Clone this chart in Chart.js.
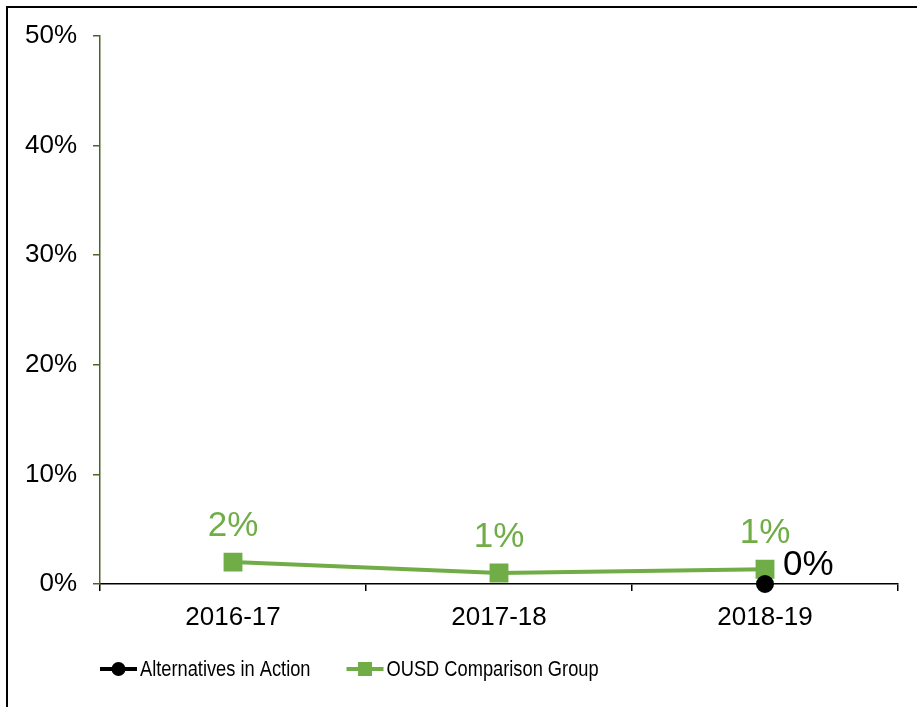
<!DOCTYPE html>
<html>
<head>
<meta charset="utf-8">
<script src="https://cdn.jsdelivr.net/npm/chart.js@4.4.1/dist/chart.umd.min.js"></script>
<style>
body{margin:0;background:#fff;}
#wrap{position:relative;width:917px;height:707px;}
#frame{position:absolute;left:6px;top:6px;right:0;bottom:0;border-top:2px solid #000;border-left:2px solid #000;pointer-events:none;}
canvas{position:absolute;left:0;top:0;}
</style>
</head>
<body>
<div id="wrap">
<canvas id="c1" width="917" height="707"></canvas>
<div id="frame"></div>
</div>
<script>
var years=['2016-17','2017-18','2018-19'];
var aiaName='Alternatives in Action';
var aiaVals=[null,null,0];
var ousdName='OUSD Comparison Group';
var ousdVals=[2.0,1.0,1.35];
var yTicks=[0,10,20,30,40,50];

var green='#70AD47';
var olive='#4F6228';
var fnt='"Liberation Sans", Arial, sans-serif';

// labels over the points, like the excel data labels
var pointLabels={
  id:'pointLabels',
  afterDatasetsDraw:function(chart){
    var ctx=chart.ctx;
    ctx.save();
    ctx.font='35px '+fnt;
    ctx.textBaseline='alphabetic';
    chart.data.datasets.forEach(function(ds,i){
      var meta=chart.getDatasetMeta(i);
      meta.data.forEach(function(pt,j){
        var v=ds.data[j];
        if(v===null||v===undefined){return;}
        var txt=Math.round(v)+'%';
        if(i==0){
          ctx.fillStyle='#000';ctx.textAlign='left';
          ctx.fillText(txt,pt.x+18,pt.y-9);
        }else{
          ctx.fillStyle=green;ctx.textAlign='center';
          ctx.fillText(txt,pt.x,pt.y-26);
        }
      });
    });
    ctx.restore();
  }
};

// legend drawn by hand: line + marker + name (text a bit condensed like the original)
var lineLegend={
  id:'lineLegend',
  afterDraw:function(chart){
    var ctx=chart.ctx;
    var a=chart.chartArea;
    var y=a.bottom+85;
    var x=a.left;
    var sx=0.83;
    ctx.save();
    ctx.font='22px '+fnt;
    ctx.textBaseline='middle';
    ctx.textAlign='left';
    chart.data.datasets.forEach(function(ds,i){
      ctx.strokeStyle=ds.borderColor;ctx.lineWidth=4;
      ctx.beginPath();ctx.moveTo(x,y);ctx.lineTo(x+37,y);ctx.stroke();
      ctx.fillStyle=ds.pointBackgroundColor;
      if(ds.pointStyle=='rect'){ctx.fillRect(x+18.5-7,y-7,14,14);}
      else{ctx.beginPath();ctx.arc(x+18.5,y,7,0,Math.PI*2);ctx.fill();}
      ctx.fillStyle='#000';
      ctx.save();
      ctx.translate(x+40,y+1);ctx.scale(sx,1);
      ctx.fillText(ds.label,0,0);
      ctx.restore();
      x=x+40+ctx.measureText(ds.label).width*sx+36;
    });
    ctx.restore();
  }
};

var data={
  labels:years,
  datasets:[{
    label:aiaName,
    data:aiaVals,
    borderColor:'#000',
    backgroundColor:'#000',
    pointBackgroundColor:'#000',
    pointBorderColor:'#000',
    pointStyle:'circle',
    pointRadius:7,
    borderWidth:4,
    clip:false,
    order:1
  },{
    label:ousdName,
    data:ousdVals,
    borderColor:green,
    backgroundColor:green,
    pointBackgroundColor:green,
    pointBorderColor:green,
    pointStyle:'rect',
    pointRadius:10.5,
    borderWidth:4,
    tension:0,
    clip:false,
    order:2
  }]
};

var options={
  responsive:false,
  devicePixelRatio:1,
  animation:false,
  layout:{padding:{left:0,top:36,right:19,bottom:63}},
  plugins:{legend:{display:false},tooltip:{enabled:false}},
  scales:{
    x:{
      offset:true,
      grid:{display:true,offset:true,drawOnChartArea:false,drawTicks:true,tickLength:7,color:'#000',lineWidth:1.5},
      border:{display:true,color:'#000',width:1.5},
      ticks:{color:'#000',font:{family:fnt,size:26},padding:11,maxRotation:0},
      afterFit:function(s){s.height=60;}
    },
    y:{
      min:0,max:50,
      afterBuildTicks:function(s){s.ticks=yTicks.map(function(v){return {value:v};});},
      grid:{display:true,drawOnChartArea:false,drawTicks:true,tickLength:7,color:olive,lineWidth:1.5},
      border:{display:true,color:olive,width:1.5},
      ticks:{color:'#000',font:{family:fnt,size:26},padding:16,callback:function(v){return v+'%';}},
      afterFit:function(s){s.width=100;}
    }
  }
};

var c=document.getElementById('c1');
var ctx=c.getContext('2d');
var lineChart=new Chart(ctx,{type:'line',data:data,options:options,plugins:[pointLabels,lineLegend]});
</script>
</body>
</html>
